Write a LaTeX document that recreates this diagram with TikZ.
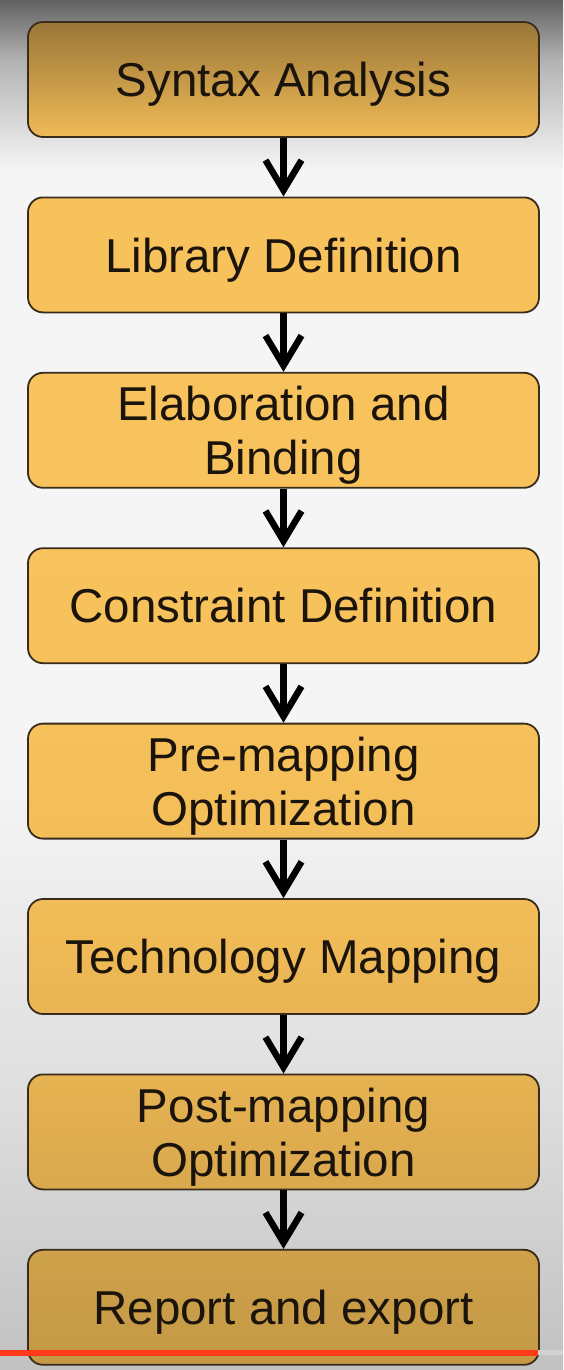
\documentclass[tikz,border=0pt]{standalone}
\usepackage{fontspec}
\setmainfont{Liberation Sans}
\usetikzlibrary{arrows.meta}
\definecolor{boxline}{HTML}{3A2C1C}
\definecolor{txt}{HTML}{1A140C}
\definecolor{barred}{HTML}{FF3A1A}
\begin{document}
\begin{tikzpicture}[x=1pt,y=-1pt,
  stage/.style={draw=boxline, line width=1.8pt, rounded corners=15pt,
    minimum width=511pt, minimum height=115pt, inner sep=0pt, align=center,
    text depth=0pt,
    font=\fontsize{47.5}{54}\selectfont, text=txt},
  flow/.style={line width=6.5pt, draw=black,
    -{Straight Barb[length=30pt,width=36pt,line width=6.5pt]}}]
\useasboundingbox (0,0) rectangle (563,1370);
% background
\fill[top color=black!62, bottom color=black!30] (0,0) rectangle (563,60);
\fill[top color=black!30, bottom color=black!4] (0,60) rectangle (563,170);
\fill[black!4] (0,170) rectangle (563,780);
\fill[top color=black!4, bottom color=black!13] (0,780) rectangle (563,1100);
\fill[top color=black!13, bottom color=black!24] (0,1100) rectangle (563,1370);
% stages
\node[stage, top color={rgb,255:red,154;green,118;blue,56}, bottom color={rgb,255:red,240;green,187;blue,87}] (s1) at (283.5,79.5) {Syntax Analysis};
\node[stage, top color={rgb,255:red,247;green,194;blue,92}, bottom color={rgb,255:red,247;green,194;blue,92}] (s2) at (283.5,254.9) {Library Definition};
\node[stage, top color={rgb,255:red,248;green,195;blue,93}, bottom color={rgb,255:red,248;green,195;blue,93}] (s3) at (283.5,430.3) {Elaboration and\\Binding};
\node[stage, top color={rgb,255:red,248;green,195;blue,92}, bottom color={rgb,255:red,246;green,192;blue,90}] (s4) at (283.5,605.7) {Constraint Definition};
\node[stage, top color={rgb,255:red,246;green,192;blue,90}, bottom color={rgb,255:red,243;green,189;blue,88}] (s5) at (283.5,781.1) {Pre-mapping\\Optimization};
\node[stage, top color={rgb,255:red,242;green,189;blue,88}, bottom color={rgb,255:red,233;green,181;blue,83}] (s6) at (283.5,956.5) {Technology Mapping};
\node[stage, top color={rgb,255:red,230;green,179;blue,82}, bottom color={rgb,255:red,217;green,168;blue,77}] (s7) at (283.5,1131.9) {Post-mapping\\Optimization};
\node[stage, top color={rgb,255:red,206;green,161;blue,74}, bottom color={rgb,255:red,196;green,153;blue,70}] (s8) at (283.5,1307.3) {Report and export};
% connectors
\foreach \a/\b in {s1/s2,s2/s3,s3/s4,s4/s5,s5/s6,s6/s7,s7/s8}
  \draw[flow] (\a.south) -- (\b.north);
% video progress bar
\fill[black!18] (538,1350) rectangle (563,1355);
\fill[barred] (0,1349.5) rectangle (538,1355.5);
\end{tikzpicture}
\end{document}
